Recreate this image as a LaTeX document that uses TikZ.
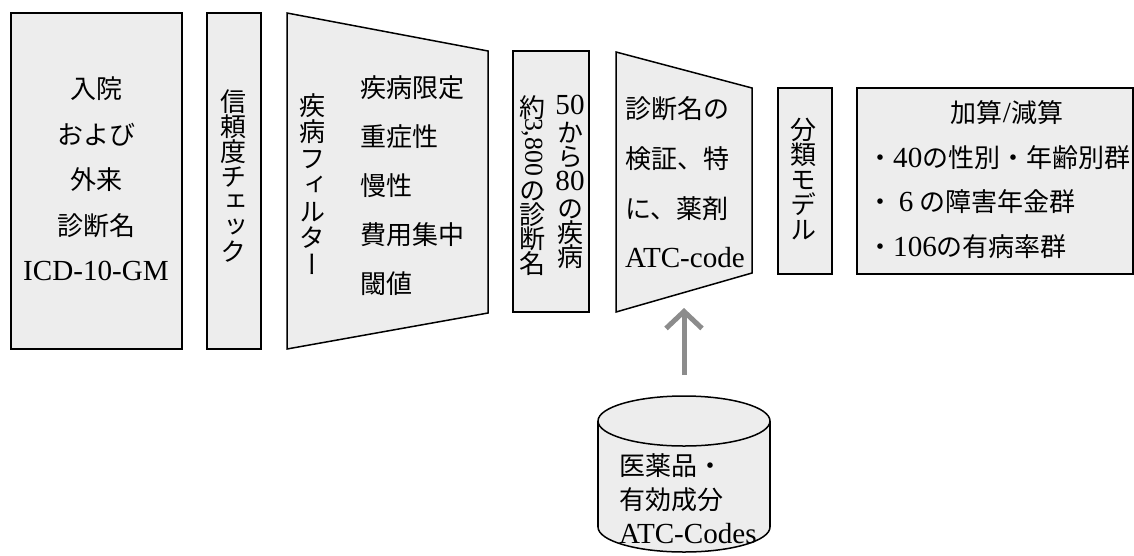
\documentclass[tikz,border=0pt]{standalone}
\usepackage{fontspec}
\setmainfont{Liberation Serif}[Scale=1.12]
\newfontfamily\jp{Noto Sans CJK JP}
\newfontfamily\jpv{Noto Sans CJK JP}[RawFeature=+vert]
\usetikzlibrary{arrows.meta}
\definecolor{boxfill}{RGB}{237,237,237}
\definecolor{arrowgray}{RGB}{140,140,140}
\newcommand\J[1]{{\jp #1}}
\tikzset{
  shapebox/.style={draw=black, fill=boxfill, line width=1.5pt, line join=miter},
  txt/.style={inner sep=0pt, font=\fontsize{26}{26}\selectfont},
  vtxt/.style={inner sep=0pt, align=center, anchor=north, font=\jpv\fontsize{26}{25}\selectfont},
  feed/.style={draw=arrowgray, line width=5pt, -{Straight Barb[length=17pt,width=36pt]}}
}
\begin{document}
\begin{tikzpicture}[x=1pt,y=-1pt]
\useasboundingbox (0,0) rectangle (1134,555);
% shapes
\draw[shapebox] (11,13) rectangle (182,349);
\draw[shapebox] (207,13) rectangle (261,349);
\draw[shapebox] (287,13) -- (488,51) -- (488,313) -- (287,349) -- cycle;
\draw[shapebox] (513,51) rectangle (589,312);
\draw[shapebox] (616,52) -- (752,88) -- (752,273) -- (616,312) -- cycle;
\draw[shapebox] (778,88) rectangle (832,274);
\draw[shapebox] (857,88) rectangle (1133,274);
% cylinder
\fill[boxfill] (598,421) rectangle (770,527);
\fill[boxfill] (684,527) ellipse[x radius=86, y radius=25];
\draw[line width=1.5pt] (598,421) -- (598,527);
\draw[line width=1.5pt] (770,421) -- (770,527);
\begin{scope}
  \clip (590,527) rectangle (780,560);
  \draw[line width=1.5pt] (684,527) ellipse[x radius=86, y radius=25];
\end{scope}
\draw[shapebox] (684,421) ellipse[x radius=86, y radius=25];
% texts
\node[txt, align=center] (input) at (96,179)
  {\J{入院}\\[19.5pt]\J{および}\\[19.5pt]\J{外来}\\[19.5pt]\J{診断名}\\[19.5pt]ICD-10-GM};
\node[vtxt] (check) at (233,90) {信\\頼\\度\\チ\\ェ\\ッ\\ク};
\node[vtxt, font=\jpv\fontsize{26}{26.5}\selectfont] (filter) at (312,93) {疾\\病\\フ\\ィ\\ル\\タ\\ー};
\node[txt, align=left, anchor=west] (criteria) at (360,185.5)
  {\J{疾病限定}\\[23pt]\J{重症性}\\[23pt]\J{慢性}\\[23pt]\J{費用集中}\\[23pt]\J{閾値}};
\node[vtxt, font=\jpv\fontsize{26}{24}\selectfont] (count) at (570,95)
  {\rmfamily 50\\[4pt]か\\ら\\\rmfamily 80\\[4pt]の\\疾\\病};
\node[vtxt, font=\jpv\fontsize{26}{24}\selectfont] (diag) at (532,95)
  {約\\\raisebox{23pt}[0pt][0pt]{\rmfamily\fontsize{23}{23}\selectfont\rotatebox{-90}{3,800}}\\[35pt]の\\診\\断\\名};
\node[txt, align=left, anchor=west] (verify) at (625,182.5)
  {\J{診断名の}\\[23.7pt]\J{検証、特}\\[23.7pt]\J{に、薬剤}\\[23.7pt]ATC-code};
\node[vtxt] (model) at (803,118) {分\\類\\モ\\デ\\ル};
\node[txt] (surch) at (1007,113) {\J{加算}/\J{減算}};
\node[txt, align=left, anchor=west] (groups) at (867,202)
  {\J{・}40\J{の性別・年齢別群}\\[18.5pt]\J{・}\makebox[26pt]{6}\J{の障害年金群}\\[18.5pt]\J{・}106\J{の有病率群}};
\node[txt, align=left, anchor=west] (db) at (619,499)
  {\J{医薬品・}\\[8pt]\J{有効成分}\\[8pt]ATC-Codes};
% connector
\coordinate (arrS) at (684,375);
\coordinate (arrE) at (684,308);
\draw[feed] (arrS) -- (arrE);
\end{tikzpicture}
\end{document}
